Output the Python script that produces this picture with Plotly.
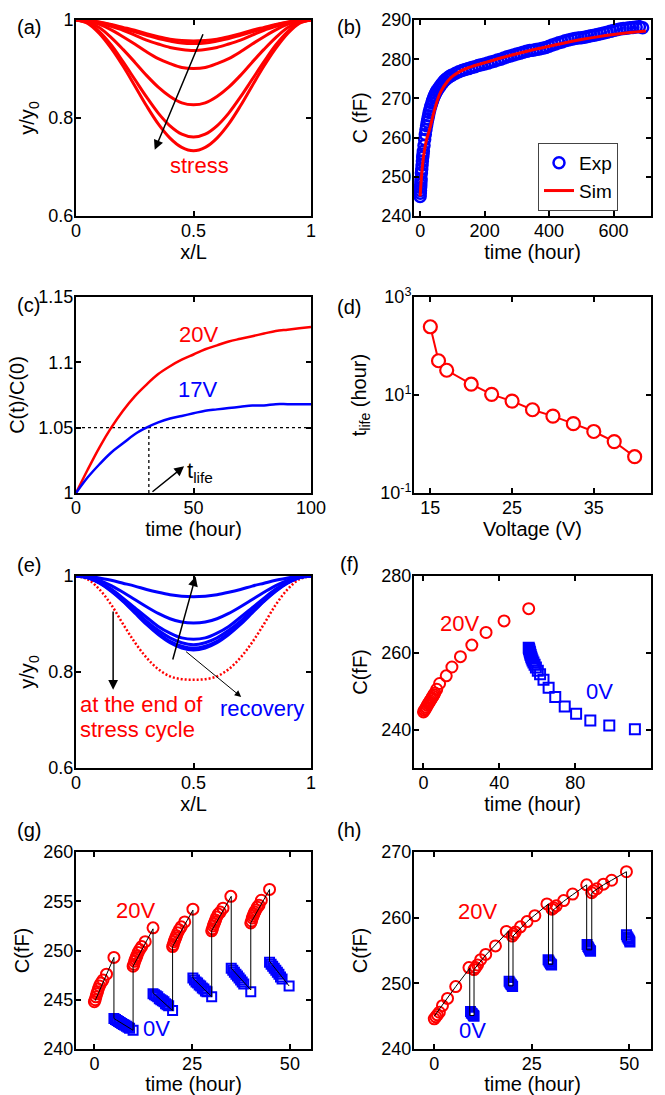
import plotly.graph_objects as go

RED = '#ff0000'
BLUE = '#0000ff'
FONT = 'Liberation Sans, Arial, sans-serif'

# ---------------- (a) deflection profiles under stress ----------------
x_L = [0.0, 0.05, 0.1, 0.15, 0.2, 0.25, 0.3, 0.35, 0.4, 0.45, 0.5,
       0.55, 0.6, 0.65, 0.7, 0.75, 0.8, 0.85, 0.9, 0.95, 1.0]
a_profiles = [
    [1, .999, .996, .991, .985, .979, .972, .966, .961, .958, .957, .958, .961, .966, .972, .979, .985, .991, .996, .999, 1],
    [1, .999, .995, .990, .983, .976, .969, .962, .957, .953, .952, .953, .957, .962, .969, .976, .983, .990, .995, .999, 1],
    [1, .998, .994, .987, .979, .969, .959, .951, .944, .940, .938, .940, .944, .951, .959, .969, .979, .987, .994, .998, 1],
    [1, .998, .991, .980, .966, .951, .935, .921, .911, .903, .901, .903, .911, .921, .935, .951, .966, .980, .991, .998, 1],
    [1, .996, .984, .964, .940, .914, .887, .863, .844, .831, .827, .831, .844, .863, .887, .914, .940, .964, .984, .996, 1],
    [1, .994, .976, .949, .915, .879, .843, .810, .784, .767, .761, .767, .784, .810, .843, .879, .915, .949, .976, .994, 1],
    [1, .993, .972, .942, .906, .866, .825, .788, .759, .740, .733, .740, .759, .788, .825, .866, .906, .942, .972, .993, 1],
]

# ---------------- (b) capacitance vs time ----------------
b_exp_t = [0, 0.5, 1, 1.5, 2, 2.5, 3, 4, 5, 6, 7, 8, 9, 10, 12, 14, 16, 18, 20, 22, 24, 26, 28, 30,
           33, 36, 39, 42, 45, 48, 51, 55, 60, 65, 70, 75, 80, 85, 90, 95,
           100, 110, 120, 130, 140, 150, 160, 170, 180, 190, 200, 210, 220, 230, 240, 250, 260, 270,
           280, 290, 300, 310, 320, 330, 340, 350, 360, 370, 380, 390, 400, 410, 420, 430, 440, 450,
           460, 470, 480, 490, 500, 510, 520, 530, 540, 550, 560, 570, 580, 590, 600, 610, 620, 630,
           640, 650, 660, 670, 680, 690]
b_exp_c = [245.0, 245.8, 246.5, 247.3, 248.0, 248.8, 249.5, 251.0, 252.0, 253.0, 254.0, 255.0, 255.8,
           256.5, 258.0, 259.5, 260.8, 262.0, 263.0, 264.0, 264.8, 265.6, 266.4, 267.1,
           268.0, 268.8, 269.5, 270.2, 270.8, 271.3, 271.8, 272.3, 272.9, 273.5, 274.0, 274.5, 274.9,
           275.2, 275.5, 275.8,
           276.0, 276.4, 276.8, 277.1, 277.4, 277.6, 277.9, 278.1, 278.4, 278.6, 278.8, 279.0, 279.3,
           279.5, 279.8, 280.0, 280.3, 280.6, 280.8, 281.1, 281.3, 281.5, 281.8, 282.0, 282.2, 282.3,
           282.5, 282.6, 282.8, 283.0, 283.3, 283.6, 283.9, 284.2, 284.4, 284.7, 284.9, 285.1, 285.3,
           285.4, 285.5, 285.6, 285.8, 286.0, 286.1, 286.3, 286.5, 286.7, 286.9, 287.1, 287.3, 287.5,
           287.7, 287.8, 287.9, 288.0, 288.1, 288.2, 288.3, 288.0]
b_sim_t = [0, 2, 5, 10, 15, 20, 30, 40, 50, 60, 70, 80, 90, 100, 120, 140, 160, 200, 250, 300, 350,
           400, 450, 500, 550, 600, 650, 700]
b_sim_c = [245.0, 247.5, 250.8, 254.8, 257.5, 259.5, 262.3, 265.6, 268.6, 271.0, 272.6, 273.8, 274.8,
           275.6, 276.7, 277.5, 278.1, 279.1, 280.3, 281.4, 282.4, 283.3, 284.2, 285.0, 285.7, 286.3,
           286.8, 287.2]

# ---------------- (c) normalized capacitance ----------------
c_t = [0, 5, 10, 15, 20, 25, 30, 35, 40, 45, 50, 55, 60, 65, 70, 75, 80, 85, 90, 95, 100]
c_20V = [1.000, 1.018, 1.035, 1.050, 1.063, 1.074, 1.083, 1.091, 1.097, 1.102, 1.106, 1.110, 1.113,
         1.116, 1.118, 1.120, 1.122, 1.124, 1.125, 1.126, 1.127]
c_17V = [1.000, 1.012, 1.022, 1.031, 1.038, 1.045, 1.050, 1.054, 1.057, 1.059, 1.061, 1.063, 1.064,
         1.065, 1.066, 1.067, 1.067, 1.068, 1.068, 1.068, 1.068]
c_threshold = 1.05
c_tlife_17V = 31

# ---------------- (d) lifetime vs voltage ----------------
d_voltage = [15, 16, 17, 20, 22.5, 25, 27.5, 30, 32.5, 35, 37.5, 40]
d_tlife = [247, 50, 32, 16.6, 10.3, 7.5, 5.0, 3.7, 2.6, 1.8, 1.12, 0.55]

# ---------------- (e) stress end and recovery profiles ----------------
e_recovery = [
    [1, .999, .996, .991, .985, .979, .972, .966, .961, .958, .957, .958, .961, .966, .972, .979, .985, .991, .996, .999, 1],
    [1, .998, .991, .980, .966, .951, .936, .922, .911, .904, .902, .904, .911, .922, .936, .951, .966, .980, .991, .998, 1],
    [1, .997, .987, .973, .954, .934, .914, .895, .881, .871, .868, .871, .881, .895, .914, .934, .954, .973, .987, .997, 1],
    [1, .997, .986, .971, .951, .929, .906, .887, .871, .861, .857, .861, .871, .887, .906, .929, .951, .971, .986, .997, 1],
    [1, .996, .986, .969, .948, .925, .902, .881, .864, .854, .850, .854, .864, .881, .902, .925, .948, .969, .986, .996, 1],
    [1, .996, .985, .968, .947, .923, .899, .878, .861, .850, .846, .850, .861, .878, .899, .923, .947, .968, .985, .996, 1],
]
e_stress_end = [1, .993, .972, .940, .900, .862, .830, .806, .791, .785, .784, .785, .791, .806, .830,
                .862, .900, .940, .972, .993, 1]

# ---------------- (f) stress then recovery ----------------
f_stress_t = [0, 0.5, 1, 1.5, 2, 2.5, 3, 3.5, 4, 4.5, 5, 5.5, 6, 7, 8.5, 12, 15, 19.5, 25.5, 33, 42.5, 55.5]
f_stress_c = [244.6, 245.0, 245.4, 245.8, 246.3, 246.7, 247.1, 247.5, 247.9, 248.3, 248.7, 249.1, 249.5,
              250.5, 252.0, 254.0, 256.3, 259.0, 262.0, 265.3, 268.3, 271.5]
f_recov_t = [55.5, 55.7, 55.9, 56.1, 56.3, 56.5, 56.8, 57.1, 57.5, 58, 58.6, 59.3, 60.3, 61.5, 63.3, 66,
             69.5, 74.5, 80.5, 88, 98, 111.5]
f_recov_c = [261.3, 261.0, 260.6, 260.2, 259.8, 259.4, 259.0, 258.5, 258.0, 257.5, 256.9, 256.2, 255.3,
             254.4, 253.0, 250.9, 248.5, 246.0, 244.1, 242.4, 241.1, 240.1]

# ---------------- (g) 5h/5h cycling ----------------
g_stress_t = [0, 0.2, 0.4, 0.6, 0.8, 1.0, 1.3, 1.7, 2.2, 3.1, 5.0,
              9.9, 10.1, 10.3, 10.5, 10.7, 10.9, 11.2, 11.6, 12.1, 13.0, 15.0,
              20.0, 20.2, 20.4, 20.6, 20.8, 21.0, 21.3, 21.7, 22.2, 23.1, 25.2,
              30.0, 30.2, 30.4, 30.6, 30.8, 31.0, 31.3, 31.7, 32.2, 32.9, 34.9,
              40.0, 40.2, 40.4, 40.6, 40.8, 41.0, 41.3, 41.7, 42.1, 42.7, 44.8]
g_stress_c = [244.8, 245.0, 245.3, 245.6, 245.8, 246.1, 246.4, 246.7, 247.0, 247.6, 249.3,
              248.4, 248.6, 248.9, 249.1, 249.3, 249.5, 249.8, 250.1, 250.4, 250.9, 252.3,
              250.4, 250.6, 250.9, 251.1, 251.3, 251.5, 251.8, 252.1, 252.4, 252.9, 254.2,
              252.0, 252.2, 252.5, 252.7, 252.9, 253.1, 253.4, 253.7, 253.9, 254.3, 255.5,
              252.8, 253.0, 253.3, 253.5, 253.7, 253.9, 254.1, 254.4, 254.6, 255.1, 256.2]
g_recov_t = [5.0, 5.4, 5.8, 6.2, 6.6, 7.0, 7.4, 7.8, 8.2, 8.6, 9.0, 9.9,
             15.0, 15.4, 15.8, 16.2, 16.6, 17.0, 17.4, 17.8, 18.2, 18.6, 19.0, 20.0,
             25.2, 25.6, 26.0, 26.4, 26.8, 27.2, 27.6, 28.0, 28.4, 28.8, 30.0,
             35.0, 35.4, 35.8, 36.2, 36.6, 37.0, 37.4, 37.8, 38.2, 40.0,
             44.8, 45.2, 45.6, 46.0, 46.4, 46.8, 47.2, 47.6, 48.0, 49.8]
g_recov_c = [243.1, 243.0, 242.9, 242.8, 242.7, 242.6, 242.5, 242.4, 242.3, 242.2, 242.1, 241.9,
             245.6, 245.5, 245.4, 245.3, 245.1, 245.0, 244.9, 244.8, 244.6, 244.5, 244.4, 243.9,
             247.2, 247.0, 246.8, 246.7, 246.5, 246.4, 246.2, 246.1, 245.9, 245.8, 245.3,
             248.2, 248.0, 247.8, 247.6, 247.4, 247.2, 247.0, 246.8, 246.6, 245.8,
             248.8, 248.6, 248.4, 248.2, 248.0, 247.8, 247.6, 247.3, 247.1, 246.4]
g_sim_t = [0.2, 5.0, 5.0, 9.9, 9.9, 15.0, 15.0, 20.0, 20.0, 25.2, 25.2, 30.0, 30.0, 35.0, 35.0, 40.0,
           40.0, 44.8, 44.8, 49.8]
g_sim_c = [244.9, 249.3, 243.1, 241.9, 248.4, 252.2, 245.7, 243.9, 250.4, 254.1, 247.2, 245.3, 252.0,
           255.5, 248.2, 246.0, 252.8, 256.2, 248.9, 246.4]

# ---------------- (h) 9h/1h cycling ----------------
h_stress_t = [0, 0.4, 0.8, 1.3, 2.1, 3.4, 5.5, 8.9, 10.2, 10.6, 11.1, 11.9, 13.2, 15.7, 18.5, 20.0,
              20.4, 20.8, 22.1, 23.8, 25.8, 28.9, 30.2, 30.6, 31.3, 33.2, 35.5, 39.1, 40.4, 40.8, 41.7,
              43.4, 45.5, 49.3]
h_stress_c = [244.6, 244.9, 245.2, 245.6, 246.6, 247.7, 249.5, 252.4, 252.1, 252.4, 252.8, 253.6,
              254.4, 255.7, 257.9, 257.2, 257.5, 257.8, 258.6, 259.4, 260.3, 262.1, 261.3, 261.5,
              261.8, 262.6, 263.6, 265.0, 263.8, 264.1, 264.4, 265.1, 265.7, 267.0]
h_recov_t = [9.3, 9.5, 9.7, 9.9, 10.1, 10.2,
             19.2, 19.4, 19.6, 19.8, 20.0, 20.1,
             29.2, 29.4, 29.6, 29.8, 30.0, 30.1,
             39.2, 39.4, 39.6, 39.8, 40.0, 40.1,
             49.3, 49.5, 49.7, 49.9, 50.1, 50.2]
h_recov_c = [245.7, 245.5, 245.4, 245.2, 245.1, 245.0,
             250.3, 250.1, 249.9, 249.8, 249.6, 249.5,
             253.6, 253.4, 253.2, 253.0, 252.9, 252.8,
             255.9, 255.6, 255.4, 255.2, 255.0, 254.9,
             257.4, 257.1, 256.9, 256.7, 256.5, 256.3]
h_sim_t = [0, 3.4, 5.5, 9.1, 9.1, 10.2, 10.2, 13.2, 15.7, 19.1, 19.1, 20.2, 20.2, 23.8, 25.8, 29.3,
           29.3, 30.4, 30.4, 33.2, 35.5, 39.1, 39.1, 40.4, 40.4, 43.4, 45.5, 49.3, 49.3]
h_sim_c = [245.0, 247.8, 249.5, 252.3, 245.1, 245.1, 252.1, 254.3, 255.8, 258.0, 249.6, 249.6, 257.2,
           259.4, 260.4, 262.1, 252.9, 252.9, 261.1, 262.5, 263.5, 265.0, 255.1, 255.1, 263.8, 265.0,
           265.7, 267.0, 256.5]

# =====================================================================
fig = go.Figure()


def ref(i):
    return ('x' if i == 1 else f'x{i}'), ('y' if i == 1 else f'y{i}')


def add(i, **kw):
    xa, ya = ref(i)
    kw.setdefault('showlegend', False)
    fig.add_trace(go.Scatter(xaxis=xa, yaxis=ya, **kw))


def circ(color, size, lw=2):
    return dict(symbol='circle-open', size=size, color=color, line=dict(width=lw, color=color))


def sq(color, size, lw=2):
    return dict(symbol='square-open', size=size, color=color, line=dict(width=lw, color=color))


# (a)
for prof in a_profiles:
    add(1, x=x_L, y=prof, mode='lines', line=dict(color=RED, width=3, shape='spline'))

# (b)
add(2, x=b_exp_t, y=b_exp_c, mode='markers', marker=circ(BLUE, 11, 2.5), name='Exp', showlegend=True)
add(2, x=b_sim_t, y=b_sim_c, mode='lines', line=dict(color=RED, width=3, shape='spline'), name='Sim',
    showlegend=True)

# (c)
add(3, x=[c_t[0], c_t[-1]], y=[c_threshold, c_threshold], mode='lines',
    line=dict(color='black', width=1.3, dash='dot'))
add(3, x=[c_tlife_17V, c_tlife_17V], y=[1.0, c_threshold], mode='lines',
    line=dict(color='black', width=1.3, dash='dot'))
add(3, x=c_t, y=c_20V, mode='lines', line=dict(color=RED, width=2.5, shape='spline'))
add(3, x=c_t, y=c_17V, mode='lines', line=dict(color=BLUE, width=2.5, shape='spline'))

# (d)
add(4, x=d_voltage, y=d_tlife, mode='lines+markers', line=dict(color=RED, width=2),
    marker=dict(symbol='circle', size=13, color='white', line=dict(width=2.2, color=RED)))

# (e)
add(5, x=x_L, y=e_stress_end, mode='lines',
    line=dict(color=RED, width=2.5, dash='2px,2px', shape='spline'))
for prof in e_recovery:
    add(5, x=x_L, y=prof, mode='lines', line=dict(color=BLUE, width=3, shape='spline'))

# (f)
add(6, x=f_stress_t, y=f_stress_c, mode='markers', marker=circ(RED, 11))
add(6, x=f_recov_t, y=f_recov_c, mode='markers', marker=sq(BLUE, 10))

# (g)
add(7, x=g_stress_t, y=g_stress_c, mode='markers', marker=circ(RED, 11))
add(7, x=g_recov_t, y=g_recov_c, mode='markers', marker=sq(BLUE, 9))
add(7, x=g_sim_t, y=g_sim_c, mode='lines', line=dict(color='black', width=1))

# (h)
add(8, x=h_stress_t, y=h_stress_c, mode='markers', marker=circ(RED, 11))
add(8, x=h_recov_t, y=h_recov_c, mode='markers', marker=sq(BLUE, 9))
add(8, x=h_sim_t, y=h_sim_c, mode='lines', line=dict(color='black', width=1))

# ---------------- axes ----------------
XL = [76 / 665, 311 / 665]
XR = [414 / 665, 651 / 665]
Y1 = [1 - 216 / 1095, 1 - 20 / 1095]
Y2 = [1 - 493 / 1095, 1 - 297 / 1095]
Y3 = [1 - 768 / 1095, 1 - 576 / 1095]
Y4 = [1 - 1049 / 1095, 1 - 852 / 1095]

common = dict(showline=True, linecolor='black', linewidth=2, mirror='ticks', ticks='inside',
              ticklen=5, tickwidth=1.5, tickcolor='black', showgrid=False, zeroline=False,
              automargin=False,
              tickfont=dict(size=18, color='black', family=FONT, weight='normal'),
              title_font=dict(size=20, color='black', family=FONT, weight='normal'))

panels = {
    1: dict(xd=XL, yd=Y1, xr=[0, 1], yr=[0.6, 1], xt=[0, 0.5, 1], xtt=['0', '0.5', '1'],
            yt=[0.6, 0.8, 1], ytt=['0.6', '0.8', '1'], xtitle='x/L', ytitle='y/y<sub>0</sub>'),
    2: dict(xd=XR, yd=Y1, xr=[-19, 716], yr=[240, 290], xt=[0, 200, 400, 600], xtt=None,
            yt=[240, 250, 260, 270, 280, 290], ytt=None, xtitle='time (hour)', ytitle='C (fF)'),
    3: dict(xd=XL, yd=Y2, xr=[0, 100], yr=[1, 1.15], xt=[0, 50, 100], xtt=None,
            yt=[1, 1.05, 1.1, 1.15], ytt=['1', '1.05', '1.1', '1.15'], xtitle='time (hour)',
            ytitle='C(t)/C(0)'),
    4: dict(xd=XR, yd=Y2, xr=[13, 42], yr=[-1, 3], xt=[15, 25, 35], xtt=None,
            yt=[0.1, 10, 1000], ytt=['10<sup>-1</sup>', '10<sup>1</sup>', '10<sup>3</sup>'],
            xtitle='Voltage (V)', ytitle='t<sub>life</sub> (hour)', ylog=True),
    5: dict(xd=XL, yd=Y3, xr=[0, 1], yr=[0.6, 1], xt=[0, 0.5, 1], xtt=['0', '0.5', '1'],
            yt=[0.6, 0.8, 1], ytt=['0.6', '0.8', '1'], xtitle='x/L', ytitle='y/y<sub>0</sub>'),
    6: dict(xd=XR, yd=Y3, xr=[-5, 120], yr=[230, 280], xt=[0, 40, 80, 120], xtt=None,
            yt=[240, 260, 280], ytt=None, xtitle='time (hour)', ytitle='C(fF)'),
    7: dict(xd=XL, yd=Y4, xr=[-4.7, 55.4], yr=[240, 260], xt=[0, 25, 50], xtt=None,
            yt=[240, 245, 250, 255, 260], ytt=None, xtitle='time (hour)', ytitle='C(fF)'),
    8: dict(xd=XR, yd=Y4, xr=[-5.2, 55.6], yr=[240, 270], xt=[0, 25, 50], xtt=None,
            yt=[240, 250, 260, 270], ytt=None, xtitle='time (hour)', ytitle='C(fF)'),
}

layout = dict(width=665, height=1095, margin=dict(l=0, r=0, t=0, b=0), autosize=False,
              paper_bgcolor='white', plot_bgcolor='white', font=dict(family=FONT, color='black'))
for i, p in panels.items():
    xa, ya = ref(i)
    xk = 'xaxis' if i == 1 else f'xaxis{i}'
    yk = 'yaxis' if i == 1 else f'yaxis{i}'
    xd = dict(common, domain=p['xd'], range=p['xr'], anchor=ya, tickvals=p['xt'],
              ticklabelstandoff=-3, title=dict(text=p['xtitle'], standoff=3))
    if p['xtt']:
        xd['ticktext'] = p['xtt']
    yd = dict(common, domain=p['yd'], range=p['yr'], anchor=xa, tickvals=p['yt'],
              ticklabelstandoff=-3, title=dict(text=p['ytitle'], standoff=8))
    if p['ytt']:
        yd['ticktext'] = p['ytt']
    if p.get('ylog'):
        yd['type'] = 'log'
    layout[xk] = xd
    layout[yk] = yd

layout['legend'] = dict(x=538 / 665, y=1 - 143 / 1095, xanchor='left', yanchor='top',
                        bgcolor='white', bordercolor='#444', borderwidth=1,
                        font=dict(size=19, family=FONT, color='black'), tracegroupgap=2)
fig.update_layout(**layout)

# ---------------- annotations ----------------
ann = []
labels = [('(a)', 15, 14), ('(b)', 349, 14), ('(c)', 15, 292), ('(d)', 349, 294),
          ('(e)', 15, 565), ('(f)', 349, 564), ('(g)', 15, 843), ('(h)', 349, 843)]
for txt, px, py in labels:
    ann.append(dict(text=txt, x=px / 665, y=1 - py / 1095, xref='paper', yref='paper',
                    showarrow=False, font=dict(size=20, family=FONT, color='black')))


def text(i, s, x, y, color, size=22, xanchor='center'):
    xa, ya = ref(i)
    ann.append(dict(text=s, x=x, y=y, xref=xa, yref=ya, showarrow=False, xanchor=xanchor,
                    font=dict(size=size, family=FONT, color=color)))


def arrow(i, x0, y0, x1, y1, width=1.5):
    xa, ya = ref(i)
    ann.append(dict(text='', x=x1, y=y1, ax=x0, ay=y0, xref=xa, yref=ya, axref=xa, ayref=ya,
                    showarrow=True, arrowhead=2, arrowsize=1.3, arrowwidth=width,
                    arrowcolor='black', standoff=0, startstandoff=0))


# (a)
arrow(1, 0.543, 0.974, 0.335, 0.735)
text(1, 'stress', 0.526, 0.704, RED)
# (c)
text(3, '20V', 52.2, 1.121, RED)
text(3, '17V', 51.9, 1.079, BLUE)
arrow(3, 31.9, 1.0, 46, 1.0205)
text(3, 't<sub>life</sub>', 46.5, 1.016, 'black', xanchor='left')
# (e)
arrow(5, 0.41, 0.823, 0.509, 0.999)
arrow(5, 0.158, 0.929, 0.158, 0.763)
arrow(5, 0.462, 0.845, 0.703, 0.748, width=1)
text(5, 'at the end of', 0.007, 0.732, RED, xanchor='left')
text(5, 'stress cycle', 0.007, 0.680, RED, xanchor='left')
text(5, 'recovery', 0.79, 0.723, BLUE)
# (f)
text(6, '20V', 19, 267.7, RED)
text(6, '0V', 92.8, 249.8, BLUE)
# (g)
text(7, '20V', 10.5, 254.1, RED)
text(7, '0V', 16.0, 242.1, BLUE)
# (h)
text(8, '20V', 11.2, 261.0, RED)
text(8, '0V', 9.8, 242.8, BLUE)

fig.update_layout(annotations=ann)
fig.write_html('out.html')
